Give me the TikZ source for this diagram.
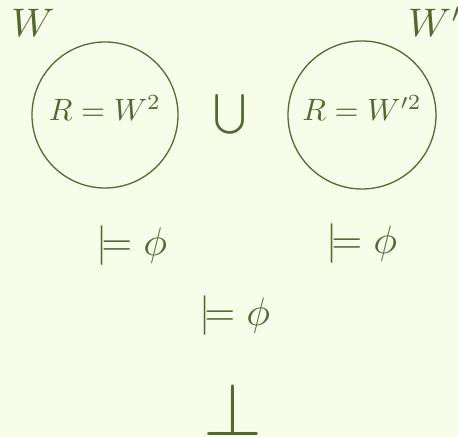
\documentclass[tikz,border=0pt]{standalone}
\usepackage{graphicx}
\usepackage{amsmath}
\definecolor{bgc}{RGB}{246,253,233}
\definecolor{ink}{RGB}{85,104,48}
\newcommand{\bigtxt}[1]{\scalebox{4}{#1}}
\newcommand{\smalltxt}[1]{\scalebox{3.1}{#1}}
\begin{document}
\begin{tikzpicture}[x=1bp,y=1bp,
  lbl/.style={text=ink,inner sep=0pt},
  world/.style={draw=ink,line width=1.3bp,circle,minimum size=#1,inner sep=0pt}]
\fill[bgc] (0,0) rectangle (458,437);
\useasboundingbox (0,0) rectangle (458,437);
\node[lbl] (wl) at (33,414) {\bigtxt{$W$}};
\node[world=146bp] (cl) at (105,322) {};
\node[lbl,anchor=base] (rl) at (105,316) {\smalltxt{$R=W^2$}};
\node[lbl] (cup) at (230,323) {\bigtxt{$\bigcup$}};
\node[world=148bp] (cr) at (362,322) {};
\node[lbl,anchor=base] (rr) at (362,316) {\smalltxt{$R=W'^2$}};
\node[lbl,anchor=base west] (wr) at (408,400) {\bigtxt{$W'$}};
\node[lbl] (ml) at (132,191) {\bigtxt{$\models\phi$}};
\node[lbl] (mr) at (362,193) {\bigtxt{$\models\phi$}};
\node[lbl] (mm) at (235,121) {\bigtxt{$\models\phi$}};
\node[lbl] (bot) at (233,28) {\scalebox{7.6}{$\bot$}};
\end{tikzpicture}
\end{document}
